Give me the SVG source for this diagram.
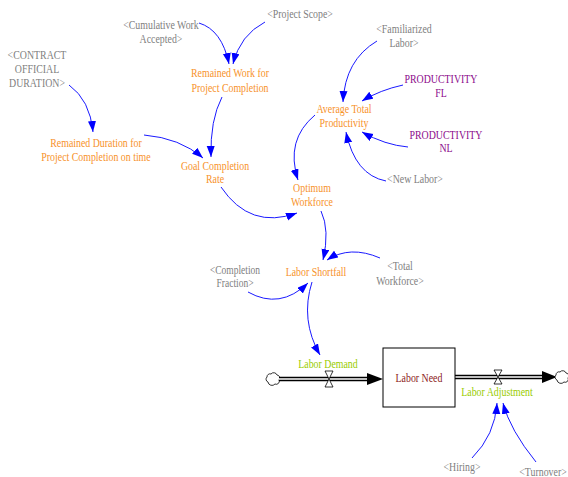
<svg xmlns="http://www.w3.org/2000/svg" width="568" height="477" viewBox="0 0 568 477">
<style>
text{font-family:"Liberation Serif","DejaVu Serif","Times New Roman",serif;font-size:13px;text-anchor:middle}
.o{fill:#f7922a}.g{fill:#808080}.p{fill:#8b0a8b}.r{fill:#8b1a1a}.y{fill:#99cc00}
.c path{fill:none;stroke:#1a1aff;stroke-width:1;marker-end:url(#ah)}
.pipe{stroke:#000;stroke-width:4.5}.pipein{stroke:#fff;stroke-width:1.5}
.valve{fill:#fff;stroke:#000;stroke-width:0.8}
.cloud{fill:#fff;stroke:#000;stroke-width:0.8}
</style>
<defs>
<marker id="ah" markerUnits="userSpaceOnUse" markerWidth="12" markerHeight="10" refX="11" refY="4" orient="auto">
<path d="M0,0 L11,4 L0,8 Z" fill="#0000ff"/>
</marker>
<path id="cl" d="M-5,3 a3,3 0 0 1 -1,-5 a3,3 0 0 1 4,-3 a3.5,3.5 0 0 1 6,1 a3,3 0 0 1 2,5 a3,3 0 0 1 -4,4 a4,4 0 0 1 -7,-2 z"/>
</defs>
<rect width="568" height="477" fill="#fff"/>
<g id="connectors" class="c">
<path d="M199,23 Q222,30 229,64"/>
<path d="M265,22 Q240,35 233,64"/>
<path d="M222,97 Q210,120 211,157"/>
<path d="M144,135 Q180,138 203,158"/>
<path d="M69,85 Q90,100 93,132"/>
<path d="M377,41 Q345,60 343,102"/>
<path d="M403,85 Q380,90 362,101"/>
<path d="M408,147 Q385,145 362,132"/>
<path d="M386,181 Q355,175 346,132"/>
<path d="M315,115 Q285,140 298,180"/>
<path d="M221,187 Q250,230 297,213"/>
<path d="M321,211 Q330,230 323,260"/>
<path d="M380,258 Q350,245 327,260"/>
<path d="M248,292 Q280,310 308,283"/>
<path d="M312,282 Q300,320 320,355"/>
<path d="M472,458 Q495,435 497,403"/>
<path d="M536,462 Q510,430 503,403"/>
</g>
<g id="flows">
<use href="#cl" class="cloud" x="273" y="379"/>
<line class="pipe" x1="279" y1="379" x2="369" y2="379"/>
<line class="pipein" x1="279" y1="379" x2="369" y2="379"/>
<path d="M367,373 L383,379 L367,385 Z" fill="#000"/>
<path class="valve" d="M325,371 L333,371 L325,387 L333,387 Z"/>
<line class="pipe" x1="455" y1="377" x2="544" y2="377"/>
<line class="pipein" x1="455" y1="377" x2="544" y2="377"/>
<path d="M542,371 L557,377 L542,383 Z" fill="#000"/>
<path class="valve" d="M494,370 L502,370 L494,384 L502,384 Z"/>
<use href="#cl" class="cloud" x="562" y="377"/>
</g>
<g id="cumulative_work_accepted"><text class="g" transform="translate(161 0) scale(0.76 1)" y="29"><tspan x="0">&lt;Cumulative Work</tspan><tspan x="0" dy="14">Accepted&gt;</tspan></text></g>
<g id="project_scope"><text class="g" transform="translate(300 0) scale(0.76 1)" y="18">&lt;Project Scope&gt;</text></g>
<g id="remained_work"><text class="o" transform="translate(230 0) scale(0.76 1)" y="77"><tspan x="0">Remained Work for</tspan><tspan x="0" dy="15">Project Completion</tspan></text></g>
<g id="contract_duration"><text class="g" transform="translate(37 0) scale(0.76 1)" y="59"><tspan x="0">&lt;CONTRACT</tspan><tspan x="0" dy="14">OFFICIAL</tspan><tspan x="0" dy="14">DURATION&gt;</tspan></text></g>
<g id="remained_duration"><text class="o" transform="translate(96 0) scale(0.76 1)" y="147"><tspan x="0">Remained Duration for</tspan><tspan x="0" dy="14">Project Completion on time</tspan></text></g>
<g id="goal_completion_rate"><text class="o" transform="translate(215 0) scale(0.76 1)" y="170"><tspan x="0">Goal Completion</tspan><tspan x="0" dy="13">Rate</tspan></text></g>
<g id="familiarized_labor"><text class="g" transform="translate(404 0) scale(0.76 1)" y="33"><tspan x="0">&lt;Familiarized</tspan><tspan x="0" dy="14">Labor&gt;</tspan></text></g>
<g id="productivity_fl"><text class="p" transform="translate(441 0) scale(0.76 1)" y="83"><tspan x="0">PRODUCTIVITY</tspan><tspan x="0" dy="14">FL</tspan></text></g>
<g id="average_total_productivity"><text class="o" transform="translate(344 0) scale(0.76 1)" y="113"><tspan x="0">Average Total</tspan><tspan x="0" dy="14">Productivity</tspan></text></g>
<g id="productivity_nl"><text class="p" transform="translate(446 0) scale(0.76 1)" y="139"><tspan x="0">PRODUCTIVITY</tspan><tspan x="0" dy="13">NL</tspan></text></g>
<g id="new_labor"><text class="g" transform="translate(415 0) scale(0.76 1)" y="183">&lt;New Labor&gt;</text></g>
<g id="optimum_workforce"><text class="o" transform="translate(312 0) scale(0.76 1)" y="192"><tspan x="0">Optimum</tspan><tspan x="0" dy="14">Workforce</tspan></text></g>
<g id="completion_fraction"><text class="g" transform="translate(235 0) scale(0.76 1)" y="274" style="font-size:12.5px"><tspan x="0">&lt;Completion</tspan><tspan x="0" dy="13">Fraction&gt;</tspan></text></g>
<g id="labor_shortfall"><text class="o" transform="translate(316 0) scale(0.76 1)" y="276">Labor Shortfall</text></g>
<g id="total_workforce"><text class="g" transform="translate(400 0) scale(0.76 1)" y="270"><tspan x="0">&lt;Total</tspan><tspan x="0" dy="15">Workforce&gt;</tspan></text></g>
<g id="labor_demand"><text class="y" transform="translate(328 0) scale(0.76 1)" y="368">Labor Demand</text></g>
<g id="labor_need"><rect x="383" y="348" width="72" height="59" fill="#fff" stroke="#000" stroke-width="1"/><text class="r" transform="translate(419 0) scale(0.76 1)" y="382">Labor Need</text></g>
<g id="labor_adjustment"><text class="y" transform="translate(497 0) scale(0.76 1)" y="396">Labor Adjustment</text></g>
<g id="hiring"><text class="g" transform="translate(462 0) scale(0.76 1)" y="471">&lt;Hiring&gt;</text></g>
<g id="turnover"><text class="g" transform="translate(543 0) scale(0.76 1)" y="476">&lt;Turnover&gt;</text></g>
</svg>
